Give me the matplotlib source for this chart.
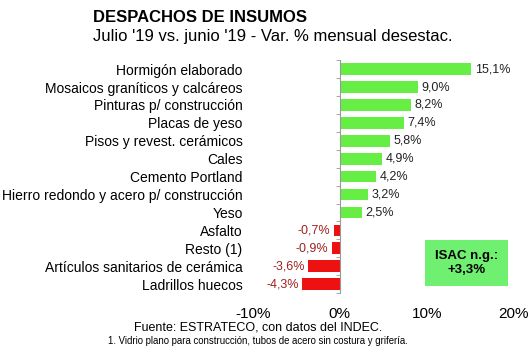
import matplotlib.pyplot as plt
import numpy as np

plt.rcParams['font.family'] = ['Liberation Sans', 'DejaVu Sans']

categorias = ["Hormigón elaborado", "Mosaicos graníticos y calcáreos", "Pinturas p/ construcción",
              "Placas de yeso", "Pisos y revest. cerámicos", "Cales", "Cemento Portland",
              "Hierro redondo y acero p/ construcción", "Yeso", "Asfalto", "Resto (1)",
              "Artículos sanitarios de cerámica", "Ladrillos huecos"]
valores = [15.1, 9.0, 8.2, 7.4, 5.8, 4.9, 4.2, 3.2, 2.5, -0.7, -0.9, -3.6, -4.3]
xticks = [-10, 0, 10, 20]
isac = 3.3

fig = plt.figure(figsize=(5.3, 3.54), dpi=100)
ax = fig.add_axes([0.477, 0.172, 0.4925, 0.658])

y = np.arange(len(categorias))
colores = ['#66EE44' if v >= 0 else '#EE1111' for v in valores]
ax.barh(y, valores, height=0.65, color=colores)

for yi, v in zip(y, valores):
    txt = f"{v:.1f}%".replace('.', ',')
    if v >= 0:
        ax.text(v + 0.4, yi, txt, va='center', ha='left', fontsize=9, color='#222222')
    else:
        ax.text(v - 0.4, yi, txt, va='center', ha='right', fontsize=9, color='#A02020')

ax.set_xlim(-10, 20)
ax.set_ylim(len(categorias) - 0.5, -0.5)
ax.set_xticks(xticks)
ax.set_xticklabels([f"{t}%" for t in xticks], fontsize=11)
ax.tick_params(axis='x', length=0, pad=10)

# eje vertical en 0 con marcas entre categorías
for s in ['top', 'right', 'bottom']:
    ax.spines[s].set_visible(False)
ax.spines['left'].set_position(('data', 0))
ax.spines['left'].set_color('#999999')
ax.set_yticks(y)
ax.set_yticklabels(categorias, fontsize=10)
ax.set_yticks(np.arange(len(categorias) + 1) - 0.5, minor=True)
ax.tick_params(axis='y', which='major', length=0, pad=70)
ax.tick_params(axis='y', which='minor', length=3, color='#999999')

isac_txt = "ISAC n.g.:\n+" + f"{isac:.1f}".replace('.', ',') + "%"
ax.text(0.82, 0.13, isac_txt, transform=ax.transAxes,
        ha='center', va='center', fontsize=9.5, fontweight='bold', linespacing=1.25,
        bbox=dict(boxstyle='square,pad=0.75', facecolor='#70F070', edgecolor='none'))

fig.text(0.175, 0.95, "DESPACHOS DE INSUMOS", fontsize=12, fontweight='bold', va='center')
fig.text(0.175, 0.898, "Julio '19 vs. junio '19 - Var. % mensual desestac.", fontsize=12, va='center')
fig.text(0.487, 0.076, "Fuente: ESTRATECO, con datos del INDEC.", fontsize=9, ha='center', va='center')
fig.text(0.487, 0.037, "1. Vidrio plano para construcción, tubos de acero sin costura y grifería.",
         fontsize=6.9, ha='center', va='center')

fig.savefig('out.png', dpi=100, facecolor='white')
